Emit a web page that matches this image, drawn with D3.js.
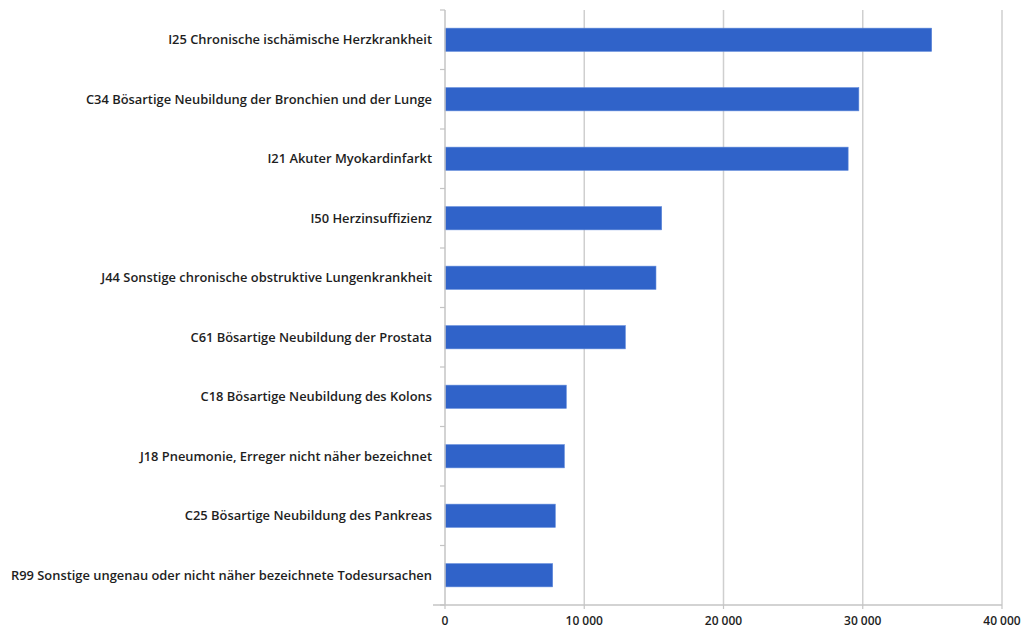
<!DOCTYPE html>
<html>
<head>
<meta charset="utf-8">
<script src="https://cdn.jsdelivr.net/npm/d3@7"></script>
<style>
  html, body { margin: 0; padding: 0; background: #fff; }
  svg { display: block; }
  .cat text { font-family: "Open Sans", sans-serif; font-weight: 600; font-size: 12.9px; fill: #1e1e1e; }
  .xlab text { font-family: "Open Sans", sans-serif; font-weight: 600; font-size: 12px; fill: #1e1e1e; }
</style>
</head>
<body>
<svg id="chart" width="1031" height="633"></svg>
<script>
// Causes of death (ICD-10) and number of cases
const categories = [
  "I25 Chronische ischämische Herzkrankheit",
  "C34 Bösartige Neubildung der Bronchien und der Lunge",
  "I21 Akuter Myokardinfarkt",
  "I50 Herzinsuffizienz",
  "J44 Sonstige chronische obstruktive Lungenkrankheit",
  "C61 Bösartige Neubildung der Prostata",
  "C18 Bösartige Neubildung des Kolons",
  "J18 Pneumonie, Erreger nicht näher bezeichnet",
  "C25 Bösartige Neubildung des Pankreas",
  "R99 Sonstige ungenau oder nicht näher bezeichnete Todesursachen"
];
const values = [34950, 29720, 28950, 15560, 15150, 12950, 8710, 8570, 7920, 7730];
const xTicks = [0, 10000, 20000, 30000, 40000];
const xTickLabels = ["0", "10 000", "20 000", "30 000", "40 000"];

const svg = d3.select("#chart");
const plotLeft = 445, plotRight = 1002, plotTop = 10, plotBottom = 605;

const x = d3.scaleLinear().domain([0, 40000]).range([plotLeft, plotRight]);
const y = d3.scaleBand().domain(categories).range([plotTop, plotBottom]).padding(0);
const barH = y.bandwidth() * 0.39;

// vertical gridlines
svg.append("g")
  .selectAll("line")
  .data(xTicks.slice(1))
  .join("line")
  .attr("x1", d => x(d)).attr("x2", d => x(d))
  .attr("y1", plotTop).attr("y2", plotBottom)
  .attr("stroke", "#cfcfcf").attr("stroke-width", 1.5);

// bars
svg.append("g")
  .selectAll("rect")
  .data(values)
  .join("rect")
  .attr("x", x(0))
  .attr("y", (d, i) => y(categories[i]) + y.bandwidth() / 2 - barH / 2)
  .attr("width", d => x(d) - x(0))
  .attr("height", barH)
  .attr("fill", "#3063c9")
  .attr("stroke", "#5b86da")
  .attr("stroke-width", 0.6);

// category axis
const yAxis = svg.append("g").attr("class", "cat");
yAxis.append("line")
  .attr("x1", plotLeft).attr("x2", plotLeft).attr("y1", plotTop).attr("y2", plotBottom)
  .attr("stroke", "#c4c4c4").attr("stroke-width", 1.5);
yAxis.selectAll("line.tick")
  .data(categories.map(c => y(c)).concat([plotBottom]))
  .join("line")
  .attr("class", "tick")
  .attr("x1", plotLeft - 5).attr("x2", plotLeft)
  .attr("y1", d => d).attr("y2", d => d)
  .attr("stroke", "#c4c4c4").attr("stroke-width", 1.2);
yAxis.selectAll("text")
  .data(categories)
  .join("text")
  .attr("x", plotLeft - 13)
  .attr("y", d => y(d) + y.bandwidth() / 2)
  .attr("dy", "0.35em")
  .attr("text-anchor", "end")
  .text(d => d);

// value axis
const xAxis = svg.append("g").attr("class", "xlab");
xAxis.append("line")
  .attr("x1", plotLeft - 12).attr("x2", plotRight).attr("y1", plotBottom).attr("y2", plotBottom)
  .attr("stroke", "#c4c4c4").attr("stroke-width", 1.5);
xAxis.selectAll("line.tick")
  .data(xTicks)
  .join("line")
  .attr("class", "tick")
  .attr("x1", d => x(d)).attr("x2", d => x(d))
  .attr("y1", plotBottom).attr("y2", plotBottom + 4)
  .attr("stroke", "#c4c4c4").attr("stroke-width", 1.2);
xAxis.selectAll("text")
  .data(xTicks)
  .join("text")
  .attr("x", d => x(d))
  .attr("y", plotBottom + 20)
  .attr("text-anchor", "middle")
  .text((d, i) => xTickLabels[i]);
</script>
</body>
</html>
